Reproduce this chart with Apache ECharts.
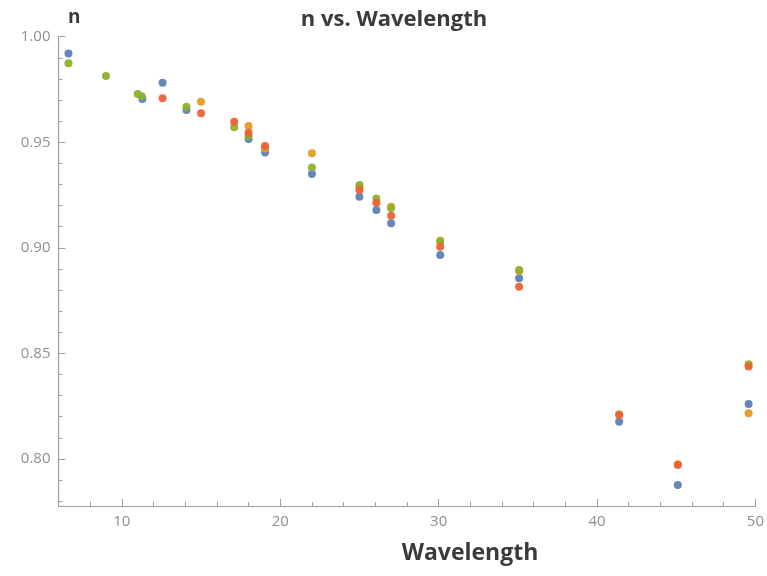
<!DOCTYPE html>
<html><head><meta charset="utf-8">
<script src="https://cdn.jsdelivr.net/npm/echarts@6/dist/echarts.min.js"></script>
<style>html,body{margin:0;padding:0;background:#fff}#c{width:767px;height:576px}</style>
</head><body><div id="c"></div>
<script>
// Data (wavelength, n)
const seriesNames = ['Set 1', 'Set 2', 'Set 3', 'Set 4'];
const blueData = [[6.63,0.9921],[11.3,0.9705],[12.57,0.9782],[14.08,0.9653],[18.0,0.9515],[19.04,0.9452],[22.0,0.9350],[25.0,0.9242],[26.07,0.9179],[27.0,0.9116],[30.1,0.8966],[35.08,0.8856],[41.4,0.8176],[45.1,0.7876],[49.57,0.8260]];
const orangeData = [[15.0,0.9692],[18.0,0.9577],[19.04,0.9470],[22.0,0.9448],[25.0,0.9290],[27.0,0.9195],[30.1,0.9034],[35.08,0.8890],[41.4,0.8212],[45.1,0.7975],[49.57,0.8216]];
const greenData = [[6.63,0.9874],[9.0,0.9814],[11.0,0.9729],[11.25,0.9718],[14.08,0.9668],[17.09,0.9571],[18.0,0.9530],[22.0,0.9381],[25.0,0.9297],[26.07,0.9234],[27.0,0.9188],[30.1,0.9030],[35.08,0.8895],[49.57,0.8448]];
const redData = [[12.57,0.9708],[15.0,0.9637],[17.09,0.9597],[18.0,0.9545],[19.04,0.9482],[25.0,0.9274],[26.07,0.9214],[27.0,0.9152],[30.1,0.9005],[35.08,0.8816],[41.4,0.8208],[45.1,0.7971],[49.57,0.8438]];
const xMajorTicks = [10,20,30,40,50];
const xMinorTicks = [8,12,14,16,18,22,24,26,28,32,34,36,38,42,44,46,48];
const yMajorTicks = [0.80,0.85,0.90,0.95,1.00];
const yMinorTicks = [0.78,0.79,0.81,0.82,0.83,0.84,0.86,0.87,0.88,0.89,0.91,0.92,0.93,0.94,0.96,0.97,0.98,0.99];

const colors = ['#5E81B5','#E19C24','#8FB032','#EB6235'];
const allData = [blueData, orangeData, greenData, redData];
const chart = echarts.init(document.getElementById('c'));
const axisCol = '#a0a0a0';
const labelCol = '#8f8f8f';
const xBase = {type:'value', min:6, max:50, position:'bottom', splitLine:{show:false}};
const yBase = {type:'value', min:0.7777, max:1.0, position:'left', splitLine:{show:false}};
chart.setOption({
  animation:false,
  grid:{left:58.5, right:10, top:36.7, bottom:70},
  title:[
    {text:'n vs. Wavelength', left:389, top:4, textAlign:'center',
     textStyle:{fontFamily:'Open Sans', fontWeight:'bold', fontSize:22, color:'#3a3a3a'}},
    {text:'n', left:63, top:3,
     textStyle:{fontFamily:'Open Sans', fontWeight:'bold', fontSize:19, color:'#3a3a3a'}},
    {text:'Wavelength', left:465, top:537, textAlign:'center',
     textStyle:{fontFamily:'Open Sans', fontWeight:'bold', fontSize:23, color:'#3a3a3a'}}
  ],
  xAxis:[
    Object.assign({}, xBase, {
      axisLine:{show:true, lineStyle:{color:axisCol, width:1.2}},
      axisTick:{show:true, inside:true, length:7, customValues:xMajorTicks, lineStyle:{color:axisCol}},
      axisLabel:{show:true, customValues:xMajorTicks, margin:8, color:labelCol, fontSize:15, fontFamily:'Open Sans'}
    }),
    Object.assign({}, xBase, {
      axisLine:{show:false},
      axisTick:{show:true, inside:true, length:4, customValues:xMinorTicks, lineStyle:{color:axisCol}},
      axisLabel:{show:false}
    })
  ],
  yAxis:[
    Object.assign({}, yBase, {
      axisLine:{show:true, lineStyle:{color:axisCol, width:1.2}},
      axisTick:{show:true, inside:true, length:7, customValues:yMajorTicks, lineStyle:{color:axisCol}},
      axisLabel:{show:true, customValues:yMajorTicks, margin:8, color:labelCol, fontSize:15, fontFamily:'Open Sans',
        formatter:v=>v.toFixed(2)}
    }),
    Object.assign({}, yBase, {
      axisLine:{show:false},
      axisTick:{show:true, inside:true, length:4, customValues:yMinorTicks, lineStyle:{color:axisCol}},
      axisLabel:{show:false}
    })
  ],
  series: allData.map((d,i)=>({
    name:seriesNames[i], type:'scatter', data:d, symbolSize:8,
    xAxisIndex:0, yAxisIndex:0,
    itemStyle:{color:colors[i], opacity:0.95}
  }))
});
</script></body></html>
